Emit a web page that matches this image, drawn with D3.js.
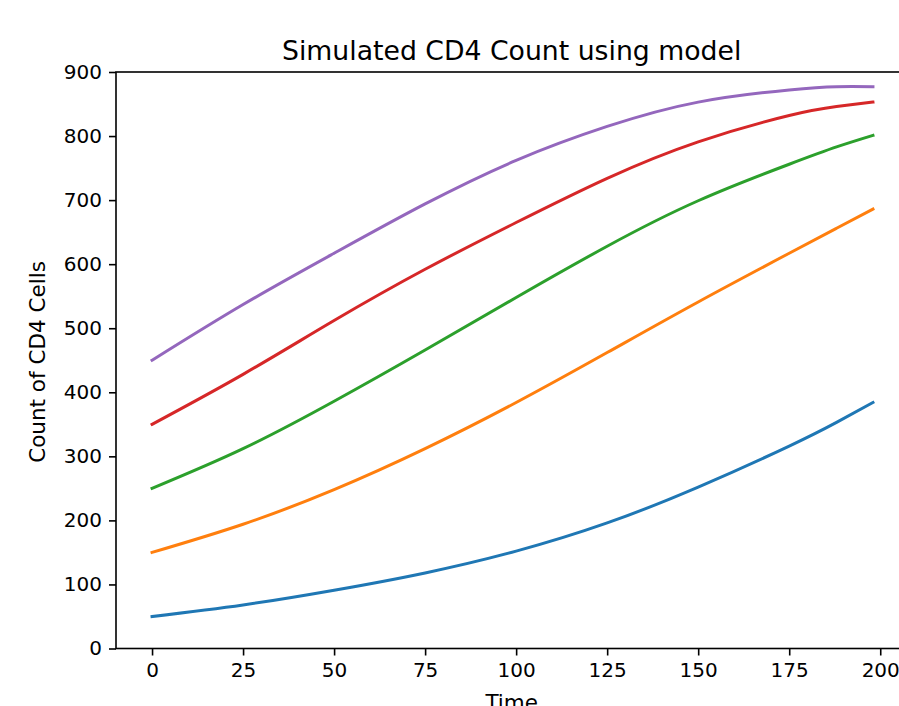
<!DOCTYPE html>
<html>
<head>
<meta charset="utf-8">
<script src="https://cdn.jsdelivr.net/npm/d3@7"></script>
<style>
  html, body { margin: 0; padding: 0; background: #fff; }
  svg { display: block; font-family: "DejaVu Sans", sans-serif; }
</style>
</head>
<body>
<svg id="chart" width="899" height="706"></svg>
<script>
// ---- data ----
const time    = [0, 25, 50, 75, 100, 125, 150, 175, 188, 198];
const series1 = [50, 68, 91, 118, 152, 196, 252, 316, 353, 384];
const series2 = [150, 194, 248, 312, 384, 462, 541, 617, 656, 686];
const series3 = [250, 312, 386, 466, 548, 628, 699, 756, 783, 801];
const series4 = [350, 428, 512, 592, 665, 734, 791, 832, 846, 853];
const series5 = [450, 537, 617, 694, 762, 815, 853, 872, 877, 877];
const xTicks = [0, 25, 50, 75, 100, 125, 150, 175, 200];
const yTicks = [0, 100, 200, 300, 400, 500, 600, 700, 800, 900];
const colors = ["#1f77b4", "#ff7f0e", "#2ca02c", "#d62728", "#9467bd"];
const titleText = "Simulated CD4 Count using model";
const xLabel = "Time";
const yLabel = "Count of CD4 Cells";

const allSeries = [series1, series2, series3, series4, series5];

const svg = d3.select("#chart");
const mLeft = 116, mRight = 909, mTop = 72, mBottom = 648.5;

const x = d3.scaleLinear().domain([-9.9, 207.9]).range([mLeft, mRight]);
const y = d3.scaleLinear().domain([0, 900]).range([mBottom, mTop]);

const line = d3.line()
  .x(d => x(d[0]))
  .y(d => y(d[1]))
  .curve(d3.curveNatural);

// lines
allSeries.forEach((s, i) => {
  svg.append("path")
    .datum(time.map((t, j) => [t, s[j]]))
    .attr("fill", "none")
    .attr("stroke", colors[i])
    .attr("stroke-width", 3)
    .attr("stroke-linecap", "square")
    .attr("d", line);
});

// axes
const xAxis = d3.axisBottom(x).tickValues(xTicks).tickSize(7).tickPadding(7).tickFormat(d3.format("d"));
const yAxis = d3.axisLeft(y).tickValues(yTicks).tickSize(7).tickPadding(7).tickFormat(d3.format("d"));

const gx = svg.append("g").attr("transform", `translate(0,${mBottom})`).call(xAxis);
const gy = svg.append("g").attr("transform", `translate(${mLeft},0)`).call(yAxis);

[gx, gy].forEach(g => {
  g.select(".domain").remove();
  g.selectAll(".tick line").attr("stroke", "#000").attr("stroke-width", 1.6);
  g.selectAll(".tick text").attr("fill", "#000").style("font-size", "20px").style("font-family", "DejaVu Sans, sans-serif");
});

// spines
svg.append("rect")
  .attr("x", mLeft).attr("y", mTop)
  .attr("width", mRight - mLeft).attr("height", mBottom - mTop)
  .attr("fill", "none").attr("stroke", "#000").attr("stroke-width", 1.6);

// title
svg.append("text")
  .attr("x", 511.7).attr("y", 59.7)
  .attr("text-anchor", "middle")
  .style("font-size", "26.7px")
  .attr("fill", "#000")
  .text(titleText);

// x label
svg.append("text")
  .attr("x", 511.7).attr("y", 710)
  .attr("text-anchor", "middle")
  .style("font-size", "21.5px")
  .attr("fill", "#000")
  .text(xLabel);

// y label
svg.append("text")
  .attr("transform", `translate(45,362) rotate(-90)`)
  .attr("text-anchor", "middle")
  .style("font-size", "21.5px")
  .attr("fill", "#000")
  .text(yLabel);
</script>
</body>
</html>
